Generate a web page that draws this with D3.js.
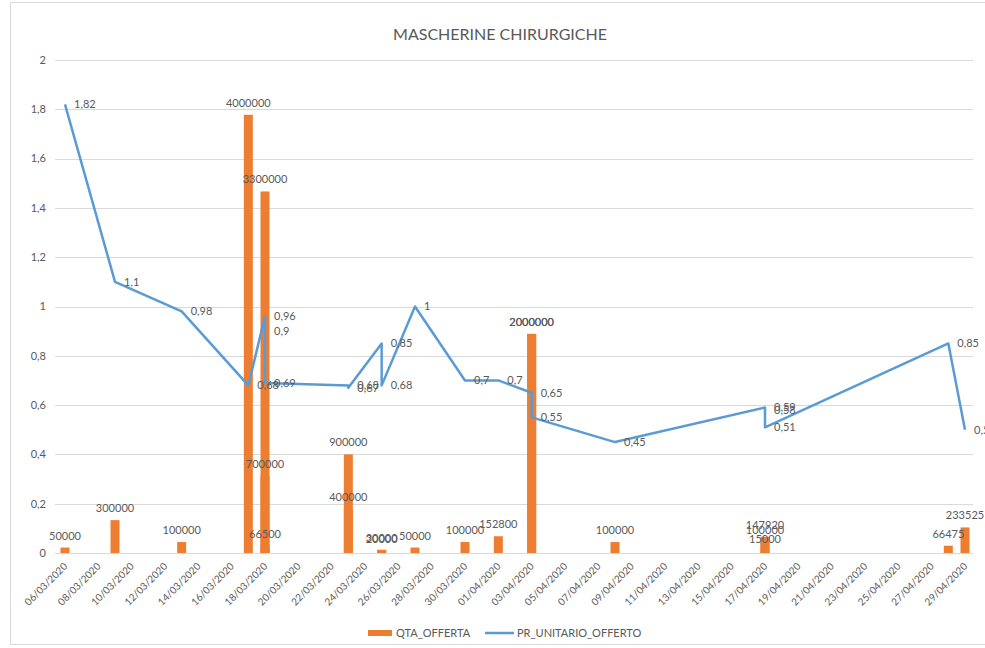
<!DOCTYPE html>
<html>
<head>
<meta charset="utf-8">
<script src="https://cdn.jsdelivr.net/npm/d3@7"></script>
<style>
  body { margin: 0; background: #fff; }
  svg text { font-family: Lato, "Liberation Sans", sans-serif; fill: #595959; }
</style>
</head>
<body>
<div id="vizArea"></div>
<script>
var w = 985
var h = 648

// DATA ********************************
var dates = ["06/03/2020", "09/03/2020", "13/03/2020", "17/03/2020", "18/03/2020", "18/03/2020",
  "18/03/2020", "23/03/2020", "23/03/2020", "25/03/2020", "25/03/2020", "27/03/2020", "30/03/2020",
  "01/04/2020", "03/04/2020", "03/04/2020", "08/04/2020", "17/04/2020", "17/04/2020", "17/04/2020",
  "28/04/2020", "29/04/2020"]
var qtaOfferta = [50000, 300000, 100000, 4000000, 3300000, 700000, 66500, 900000, 400000, 30000,
  20000, 50000, 100000, 152800, 2000000, 2000000, 100000, 147920, 100000, 15000, 66475, 233525]
var prUnitario = [1.82, 1.1, 0.98, 0.68, 0.96, 0.9, 0.69, 0.68, 0.67, 0.85, 0.68, 1, 0.7, 0.7,
  0.65, 0.55, 0.45, 0.59, 0.58, 0.51, 0.85, 0.5]
var yTicks = [0, 0.2, 0.4, 0.6, 0.8, 1, 1.2, 1.4, 1.6, 1.8, 2]
var xTickLabels = ["06/03/2020", "08/03/2020", "10/03/2020", "12/03/2020", "14/03/2020", "16/03/2020",
  "18/03/2020", "20/03/2020", "22/03/2020", "24/03/2020", "26/03/2020", "28/03/2020", "30/03/2020",
  "01/04/2020", "03/04/2020", "05/04/2020", "07/04/2020", "09/04/2020", "11/04/2020", "13/04/2020",
  "15/04/2020", "17/04/2020", "19/04/2020", "21/04/2020", "23/04/2020", "25/04/2020", "27/04/2020",
  "29/04/2020"]

var parse = d3.timeParse("%d/%m/%Y")
var data = dates.map(function(d, i) {
  return { date: parse(d), qta: qtaOfferta[i], pr: prUnitario[i] }
})

var comma = function(v) { return String(v).replace(".", ",") }

var svg = d3.select("#vizArea").append("svg")
  .attr("width", w)
  .attr("height", h)

// chart frame
svg.append("rect")
  .attr("x", 10.5).attr("y", 2.5)
  .attr("width", w).attr("height", 642)
  .attr("fill", "none").attr("stroke", "#d9d9d9")

// SCALES ********************************
var x = d3.scaleTime()
  .domain([parse(xTickLabels[0]), parse(xTickLabels[xTickLabels.length - 1])])
  .range([65, 965])
var y = d3.scaleLinear().domain([0, 2]).range([553, 60])
var y2 = d3.scaleLinear().domain([0, 4500000]).range([553, 60])

// gridlines + y labels
svg.append("g").selectAll("line")
  .data(yTicks).enter().append("line")
  .attr("x1", 55).attr("x2", 973)
  .attr("y1", function(d) { return Math.round(y(d)) + 0.5 })
  .attr("y2", function(d) { return Math.round(y(d)) + 0.5 })
  .attr("stroke", "#d9d9d9")

svg.append("g").selectAll("text")
  .data(yTicks).enter().append("text")
  .attr("x", 46)
  .attr("y", function(d) { return y(d) })
  .attr("dy", "0.35em")
  .attr("text-anchor", "end")
  .style("font-size", "11px")
  .text(comma)

// x tick labels, rotated
svg.append("g").selectAll("text")
  .data(xTickLabels).enter().append("text")
  .attr("text-anchor", "end")
  .attr("transform", function(d) {
    return "translate(" + (x(parse(d)) + 3) + ",567) rotate(-45)"
  })
  .style("font-size", "10px")
  .text(function(d) { return d })

// BARS ********************************
var barW = 9
svg.append("g").selectAll("rect")
  .data(data).enter().append("rect")
  .attr("x", function(d) { return x(d.date) - barW / 2 })
  .attr("y", function(d) { return y2(d.qta) })
  .attr("width", barW)
  .attr("height", function(d) { return y2(0) - y2(d.qta) })
  .attr("fill", "#ed7d31")

svg.append("g").selectAll("text")
  .data(data).enter().append("text")
  .attr("x", function(d) { return x(d.date) })
  .attr("y", function(d) { return y2(d.qta) - 8 })
  .attr("text-anchor", "middle")
  .style("font-size", "11px")
  .text(function(d) { return d.qta })

// LINE ********************************
var line = d3.line()
  .x(function(d) { return x(d.date) })
  .y(function(d) { return y(d.pr) })

svg.append("path")
  .datum(data)
  .attr("d", line)
  .attr("fill", "none")
  .attr("stroke", "#5b9bd5")
  .attr("stroke-width", 2.5)
  .attr("stroke-linejoin", "round")

svg.append("g").selectAll("text")
  .data(data).enter().append("text")
  .attr("x", function(d) { return x(d.date) + 9 })
  .attr("y", function(d) { return y(d.pr) })
  .attr("dy", "0.35em")
  .style("font-size", "11px")
  .text(function(d) { return comma(d.pr) })

// TITLE + LEGEND ********************************
svg.append("text")
  .attr("x", 500).attr("y", 40)
  .attr("text-anchor", "middle")
  .style("font-size", "16px")
  .text("MASCHERINE CHIRURGICHE")

var legend = svg.append("g")
legend.append("rect")
  .attr("x", 368).attr("y", 630).attr("width", 24).attr("height", 6)
  .attr("fill", "#ed7d31")
legend.append("text")
  .attr("x", 396).attr("y", 633).attr("dy", "0.35em")
  .style("font-size", "11px")
  .text("QTA_OFFERTA")
legend.append("line")
  .attr("x1", 485).attr("x2", 514).attr("y1", 633).attr("y2", 633)
  .attr("stroke", "#5b9bd5").attr("stroke-width", 2.5)
legend.append("text")
  .attr("x", 517).attr("y", 633).attr("dy", "0.35em")
  .style("font-size", "11px")
  .text("PR_UNITARIO_OFFERTO")
</script>
</body>
</html>
